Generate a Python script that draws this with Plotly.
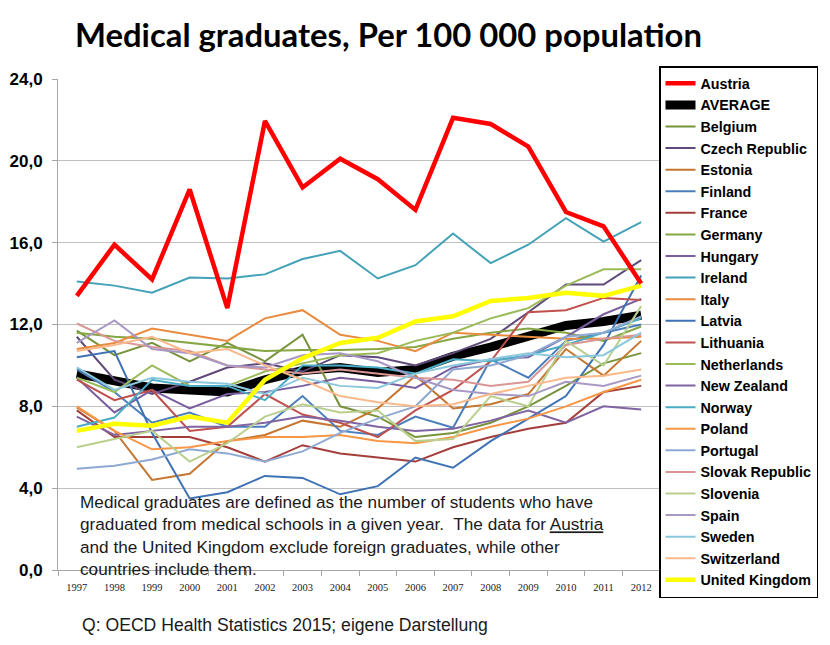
import plotly.graph_objects as go

years = [str(y) for y in range(1997, 2013)]

austria = [13.4, 15.9, 14.2, 18.6, 12.8, 21.95, 18.7, 20.1, 19.1, 17.6, 22.1, 21.8, 20.7, 17.5, 16.8, 14.0]
average = [9.6, 9.2, 8.9, 8.8, 8.7, 9.3, 9.75, 9.9, 9.65, 9.8, 10.45, 10.9, 11.4, 11.95, 12.15, 12.45]
belgium = [11.7, 10.5, 11.1, 10.2, 11.1, 10.2, 11.5, 8.0, 7.5, 6.5, 6.7, 7.2, 8.0, 9.0, 10.1, 10.6]
czech = [11.4, 9.3, 8.6, 9.2, 9.9, 10.1, 9.7, 10.5, 10.4, 10.0, 10.6, 11.3, 12.6, 13.95, 13.95, 15.15]
estonia = [7.95, 6.8, 4.4, 4.7, 6.3, 6.6, 7.3, 7.0, 7.9, 9.5, 7.9, 8.1, 8.6, 10.8, 9.5, 11.2]
finland = [9.8, 8.7, 7.2, 7.7, 7.0, 7.0, 8.5, 6.8, 6.6, 7.5, 6.95, 10.3, 9.4, 11.2, 11.6, 12.0]
france = [7.8, 6.5, 6.5, 6.5, 6.0, 5.3, 6.1, 5.7, 5.5, 5.3, 6.0, 6.5, 6.9, 7.2, 8.7, 9.0]
germany = [11.6, 11.4, 11.3, 11.1, 10.9, 10.7, 10.75, 10.75, 10.8, 10.9, 11.3, 11.6, 11.8, 11.6, 11.2, 11.9]
hungary = [9.4, 7.7, 8.8, 7.9, 8.6, 8.7, 9.0, 9.4, 9.2, 8.9, 9.9, 10.3, 10.4, 11.4, 12.5, 13.25]
ireland = [14.1, 13.9, 13.55, 14.3, 14.25, 14.45, 15.2, 15.6, 14.25, 14.9, 16.45, 15.0, 15.9, 17.2, 16.05, 17.0]
italy = [10.8, 11.1, 11.8, 11.5, 11.2, 12.3, 12.7, 11.5, 11.2, 10.7, 11.6, 11.5, 11.4, 11.3, 11.3, 11.4]
latvia = [10.4, 10.7, 6.7, 3.5, 3.8, 4.6, 4.5, 3.7, 4.1, 5.5, 5.0, 6.3, 7.4, 8.5, 11.0, 14.4]
lithuania = [9.3, 8.3, 8.8, 6.8, 7.0, 8.6, 7.6, 7.2, 6.5, 7.8, 8.8, 10.2, 12.6, 12.7, 13.3, 13.2]
netherlands = [9.4, 8.7, 10.0, 9.0, 9.0, 9.7, 10.1, 10.5, 10.6, 11.2, 11.6, 12.3, 12.8, 13.9, 14.7, 14.7]
new_zealand = [7.5, 6.6, 6.8, 7.0, 7.0, 7.2, 7.5, 7.3, 7.0, 6.8, 6.9, 7.3, 7.8, 7.2, 8.0, 7.85]
norway = [7.0, 7.45, 9.3, 9.0, 9.0, 8.3, 10.0, 10.0, 9.9, 9.6, 10.3, 10.2, 10.5, 11.0, 11.6, 12.3]
poland = [8.0, 6.8, 5.9, 6.0, 6.3, 6.5, 6.5, 6.6, 6.3, 6.2, 6.5, 7.0, 7.4, 8.0, 8.7, 9.3]
portugal = [4.95, 5.1, 5.4, 5.9, 5.7, 5.3, 5.8, 6.7, 7.4, 8.0, 9.8, 10.0, 10.5, 11.4, 11.6, 12.4]
slovak = [12.05, 11.2, 10.9, 10.7, 10.0, 9.8, 9.6, 9.8, 9.6, 9.4, 9.3, 9.0, 9.2, 11.0, 11.3, 11.5]
slovenia = [6.0, 6.4, 6.8, 5.3, 6.2, 7.5, 8.1, 7.7, 7.8, 6.3, 6.4, 8.5, 8.0, 11.2, 10.0, 12.9]
spain = [11.1, 12.2, 10.8, 10.6, 10.0, 9.9, 10.5, 10.6, 10.2, 9.4, 8.8, 8.6, 8.5, 9.2, 9.0, 9.5]
sweden = [9.9, 8.8, 9.4, 9.2, 9.1, 8.6, 9.4, 9.0, 8.9, 9.6, 10.0, 10.3, 10.6, 10.4, 10.5, 11.6]
switzerland = [10.7, 11.0, 11.4, 10.6, 10.8, 10.0, 9.3, 8.5, 8.2, 8.0, 8.1, 8.6, 9.0, 9.4, 9.5, 9.8]
uk = [6.8, 7.15, 7.05, 7.5, 7.2, 9.3, 10.35, 11.1, 11.35, 12.15, 12.4, 13.15, 13.3, 13.55, 13.4, 13.9]

# (name, values, colour, width) in legend order
series = [
    ("Austria", austria, "#ff0000", 4.5),
    ("AVERAGE", average, "#000000", 9),
    ("Belgium", belgium, "#77933c", 2),
    ("Czech Republic", czech, "#5f497a", 2),
    ("Estonia", estonia, "#c5762f", 2),
    ("Finland", finland, "#4a7ebb", 2),
    ("France", france, "#a33e3b", 2),
    ("Germany", germany, "#86a543", 2),
    ("Hungary", hungary, "#7a5fa0", 2),
    ("Ireland", ireland, "#43a2b8", 2),
    ("Italy", italy, "#e98a3e", 2),
    ("Latvia", latvia, "#3f72b5", 2),
    ("Lithuania", lithuania, "#c0504d", 2),
    ("Netherlands", netherlands, "#9bbb59", 2),
    ("New Zealand", new_zealand, "#8064a2", 2),
    ("Norway", norway, "#4bacc6", 2),
    ("Poland", poland, "#f79646", 2),
    ("Portugal", portugal, "#8ea9d2", 2),
    ("Slovak Republic", slovak, "#d99694", 2),
    ("Slovenia", slovenia, "#b9cf8e", 2),
    ("Spain", spain, "#a898c4", 2),
    ("Sweden", sweden, "#8cc8dc", 2),
    ("Switzerland", switzerland, "#f9b98a", 2),
    ("United Kingdom", uk, "#ffff00", 4.5),
]

rank = {s[0]: i + 1 for i, s in enumerate(series)}
draw_order = ["AVERAGE"] + [s[0] for s in series[2:-1]] + ["United Kingdom", "Austria"]
lookup = {s[0]: s for s in series}

fig = go.Figure()
for name in draw_order:
    n, vals, col, w = lookup[name]
    fig.add_trace(go.Scatter(
        x=years, y=vals, mode="lines", name=n,
        line=dict(color=col, width=w),
        legendrank=rank[n], legendgroup=n,
    ))

L, R, T, B = 58, 170, 79, 75
W, H = 830, 645
pw, ph = W - L - R, H - T - B

def px(xp):
    return (xp - L) / pw

def py(yp):
    return (H - B - yp) / ph

fig.update_layout(
    width=W, height=H,
    margin=dict(l=L, r=R, t=T, b=B, autoexpand=False),
    paper_bgcolor="white", plot_bgcolor="white",
    separators=",.",
    showlegend=True,
    legend=dict(
        x=px(659), y=py(66), xanchor="left", yanchor="top",
        bordercolor="black", borderwidth=1.5, bgcolor="white",
        font=dict(family="Arial", size=14.3, color="black", weight="bold"),
        itemwidth=30, traceorder="grouped", tracegroupgap=0,
        maxheight=620,
    ),
    xaxis=dict(
        type="category", range=[-0.5, 15.5], automargin=False,
        showgrid=False, showline=True, linecolor="#a6a6a6", linewidth=1,
        ticks="outside", tickson="boundaries", ticklen=5, tickcolor="#a6a6a6",
        ticklabelstandoff=7,
        tickfont=dict(family="Liberation Serif", size=10.5, color="#222"),
    ),
    yaxis=dict(
        range=[0, 24], dtick=4, tickformat=".1f", automargin=False,
        showgrid=True, gridcolor="#c0c0c0", gridwidth=1,
        showline=True, linecolor="#a6a6a6", linewidth=1,
        ticks="outside", ticklen=5, tickcolor="#a6a6a6",
        ticklabelstandoff=6,
        tickfont=dict(family="Arial", size=17, color="black", weight="bold"),
        zeroline=False,
    ),
)

fig.add_annotation(
    text="<b>Medical graduates, Per 100 000 population</b>",
    xref="paper", yref="paper", x=px(388), y=py(35),
    xanchor="center", yanchor="middle", showarrow=False,
    font=dict(family="Lato", size=32.8, color="black"),
)
fig.add_annotation(
    text=("Medical graduates are defined as the number of students who have<br>"
          "graduated from medical schools in a given year.  The data for <u>Austria</u><br>"
          "and the United Kingdom exclude foreign graduates, while other<br>"
          "countries include them."),
    xref="paper", yref="paper", x=px(78), y=py(490),
    xanchor="left", yanchor="top", align="left", showarrow=False,
    font=dict(family="Arial", size=17.2, color="#1a1a1a"),
)
fig.add_annotation(
    text="Q: OECD Health Statistics 2015; eigene Darstellung",
    xref="paper", yref="paper", x=px(80), y=py(625),
    xanchor="left", yanchor="middle", showarrow=False,
    font=dict(family="Arial", size=17.6, color="#1a1a1a"),
)

fig.write_html("out.html", config={"displayModeBar": False},
               post_script="document.body.style.margin='0';")
